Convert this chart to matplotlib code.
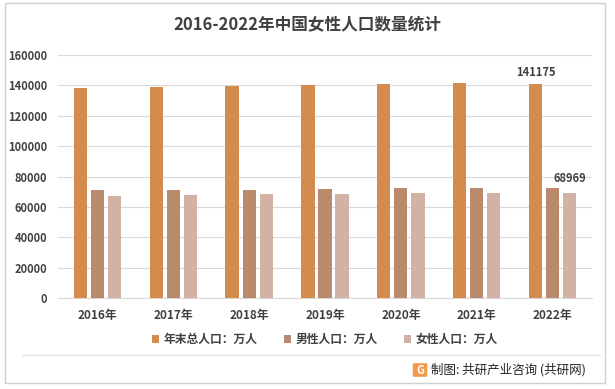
import matplotlib.pyplot as plt
import numpy as np
from matplotlib.patches import Rectangle, FancyBboxPatch
from matplotlib.lines import Line2D

plt.rcParams['font.family'] = ['Noto Sans CJK SC', 'DejaVu Sans']

years = ['2016年', '2017年', '2018年', '2019年', '2020年', '2021年', '2022年']
total = [138271, 139008, 139538, 140005, 141212, 141260, 141175]
male = [70815, 71137, 71351, 71527, 72357, 72311, 72206]
female = [67456, 67871, 68187, 68478, 68855, 68949, 68969]
series_names = ['年末总人口：万人', '男性人口：万人', '女性人口：万人']
colors = ['#D48B4E', '#B98B6C', '#D3B2A6']

fig = plt.figure(figsize=(6.15, 3.89), dpi=100)
fig.patch.set_facecolor('white')

# outer frame
fig.add_artist(Rectangle((5 / 615, 1 - 383 / 389), 600 / 615, 380 / 389,
                         transform=fig.transFigure, fill=False,
                         edgecolor='#D0D0D0', linewidth=1.0))

ax = fig.add_axes([58 / 615, 1 - 298 / 389, 534 / 615, 243 / 389])
x = np.arange(len(years))
w = 0.175
gap = 0.05
for i, (vals, c, name) in enumerate(zip([total, male, female], colors, series_names)):
    ax.bar(x + (i - 1) * (w + gap), vals, width=w, color=c, label=name, zorder=3)

ax.set_ylim(0, 160000)
ax.set_xlim(-0.52, len(years) - 0.48)
ax.set_yticks(np.arange(0, 160001, 20000))
ax.yaxis.grid(True, color='#D9D9D9', linewidth=0.8, zorder=0)
ax.tick_params(axis='y', length=0, labelsize=8, labelcolor='#404040', pad=8)
ax.tick_params(axis='x', length=0, labelsize=8.5, labelcolor='#404040', pad=8)
ax.set_xticks(x)
ax.set_xticklabels(years)
for lab in ax.get_yticklabels() + ax.get_xticklabels():
    lab.set_fontweight('bold')
for s in ['top', 'right', 'left']:
    ax.spines[s].set_visible(False)
ax.spines['bottom'].set_color('#D9D9D9')

# value labels on 2022
last = len(years) - 1
ax.text(x[last] - (w + gap), total[last] + 3000, f'{total[last]}', ha='center', va='bottom',
        fontsize=8, fontweight='bold', color='#404040')
ax.text(x[last] + (w + gap), female[last] + 5500, f'{female[last]}', ha='center', va='bottom',
        fontsize=8, fontweight='bold', color='#404040')

fig.text(0.5, 1 - 25 / 389, '2016-2022年中国女性人口数量统计', ha='center', va='center',
         fontsize=12, fontweight='bold', color='#404040')

ax.legend(loc='upper center', bbox_to_anchor=(0.5, -0.1), ncol=3, frameon=False,
          handlelength=0.6, handleheight=0.6, columnspacing=2.2,
          handletextpad=0.4, prop={'weight': 'bold', 'size': 8.5})
leg = ax.get_legend()
for t in leg.get_texts():
    t.set_color('#404040')

# separator line above footer
fig.add_artist(Line2D([22 / 615, 600 / 615], [1 - 355 / 389, 1 - 355 / 389],
                      transform=fig.transFigure, color='#E0E0E0', linewidth=0.8))

# footer logo and text
fig.add_artist(FancyBboxPatch((414 / 615, 1 - 376 / 389), 12 / 615, 12 / 389,
                              boxstyle='round,pad=0.002', transform=fig.transFigure,
                              facecolor='#F2994A', edgecolor='none'))
fig.text(420 / 615, 1 - 370 / 389, 'G', ha='center', va='center', fontsize=8,
         fontweight='bold', color='white')
fig.text(431 / 615, 1 - 370 / 389, '制图: 共研产业咨询 (共研网)', ha='left', va='center',
         fontsize=9, color='#222222')

fig.savefig('out.png', dpi=100)
